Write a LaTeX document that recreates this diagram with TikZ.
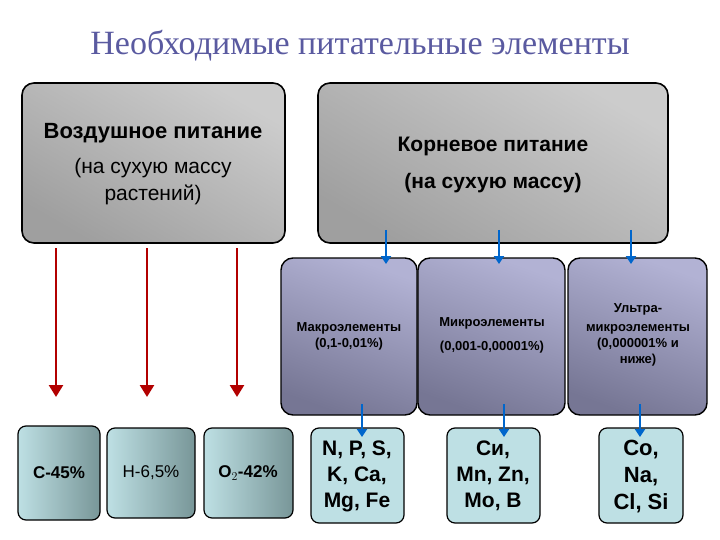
\documentclass[tikz,border=0pt]{standalone}
\usepackage{fontspec}
\setmainfont{Liberation Sans}
\newfontfamily\titlefont{Liberation Serif}
\usetikzlibrary{arrows.meta}
\definecolor{pl}{RGB}{178,178,212}
\definecolor{pd}{RGB}{118,118,148}
\definecolor{tl}{RGB}{190,224,228}
\definecolor{td}{RGB}{120,150,152}
\definecolor{ttl}{RGB}{90,90,160}
\begin{document}
\begin{tikzpicture}[x=1pt,y=-1pt,
 bigbox/.style={draw=black,line width=1.6pt,rounded corners=12pt,top color=gray!40,bottom color=gray!75,shading angle=-30},
 purbox/.style={draw=black,line width=1.4pt,rounded corners=12pt,left color=pl,right color=pd,shading angle=-20},
 tealbox/.style={draw=black,line width=1.2pt,rounded corners=8pt,left color=tl,right color=td},
 eltbox/.style={draw=black,line width=1.2pt,rounded corners=8pt,fill=tl},
 redarr/.style={draw=red!70!black,line width=2.5pt,-{Triangle[width=14pt,length=12pt]}},
 bluearr/.style={draw=blue!50!cyan!80!black,line width=2.2pt,-{Triangle[width=10pt,length=8pt]}},
 txt/.style={align=center,font=\bfseries,inner sep=0pt}]
\useasboundingbox (0,0) rectangle (720,540);
\node[font=\titlefont\fontsize{34}{38}\selectfont,text=ttl] (title) at (360,46) {Необходимые питательные элементы};
\path[bigbox] (22,83) rectangle (285,243);
\path[bigbox] (318,83) rectangle (668,243);
\node[font=\bfseries\fontsize{22}{24}\selectfont] (air) at (153,133) {Воздушное питание};
\node[align=center,font=\fontsize{21}{27}\selectfont] (air2) at (153,182) {(на сухую массу\\растений)};
\node[font=\bfseries\fontsize{21}{24}\selectfont] (root) at (493,146) {Корневое питание};
\node[font=\bfseries\fontsize{21}{24}\selectfont] (root2) at (493,183) {(на сухую массу)};
\path[purbox] (281,258) rectangle (417,415);
\path[purbox] (418,258) rectangle (565,415);
\path[purbox] (568,258) rectangle (707,415);
\node[txt,font=\bfseries\fontsize{13}{16}\selectfont] (mac) at (349,336) {Макроэлементы\\(0,1-0,01\%)};
\node[txt,font=\bfseries\fontsize{13}{16}\selectfont] (mic) at (492,323) {Микроэлементы};
\node[txt,font=\bfseries\fontsize{13}{16}\selectfont] (mic2) at (492,347) {(0,001-0,00001\%)};
\node[txt,font=\bfseries\fontsize{13}{16}\selectfont] (ult) at (638,335) {Ультра-\\[3pt]микроэлементы\\(0,000001\% и\\ниже)};
\path[tealbox] (18,426) rectangle (100,520);
\path[tealbox] (107,428) rectangle (195,518);
\path[tealbox] (204,428) rectangle (293,518);
\node[font=\bfseries\fontsize{17}{20}\selectfont] (c) at (59,473) {C-45\%};
\node[font=\fontsize{17}{20}\selectfont] (h) at (151,473) {H-6,5\%};
\node[font=\bfseries\fontsize{17}{20}\selectfont] (o) at (248,473) {O$_2$-42\%};
\path[eltbox] (311,428) rectangle (404,523);
\path[eltbox] (447,428) rectangle (540,523);
\path[eltbox] (599,428) rectangle (683,523);
\node[txt,font=\bfseries\fontsize{21}{26}\selectfont] (e1) at (357,476) {N, P, S,\\K, Ca,\\Mg, Fe};
\node[txt,font=\bfseries\fontsize{21}{26}\selectfont] (e2) at (493,476) {Cи,\\Mn, Zn,\\Mo, B};
\node[txt,font=\bfseries\fontsize{22}{27}\selectfont] (e3) at (641,477) {Co,\\Na,\\Cl, Si};
\coordinate (r1s) at (56,248); \coordinate (r1e) at (56,397);
\coordinate (r2s) at (147,248); \coordinate (r2e) at (147,397);
\coordinate (r3s) at (237,248); \coordinate (r3e) at (237,397);
\draw[redarr] (r1s) -- (r1e);
\draw[redarr] (r2s) -- (r2e);
\draw[redarr] (r3s) -- (r3e);
\coordinate (b1s) at (386,230); \coordinate (b1e) at (386,264);
\coordinate (b2s) at (499,230); \coordinate (b2e) at (499,264);
\coordinate (b3s) at (631,230); \coordinate (b3e) at (631,264);
\coordinate (b4s) at (362,404); \coordinate (b4e) at (362,437);
\coordinate (b5s) at (504,404); \coordinate (b5e) at (504,437);
\coordinate (b6s) at (640,404); \coordinate (b6e) at (640,437);
\foreach \i in {1,...,6} {\draw[bluearr] (b\i s) -- (b\i e);}
\end{tikzpicture}
\end{document}
